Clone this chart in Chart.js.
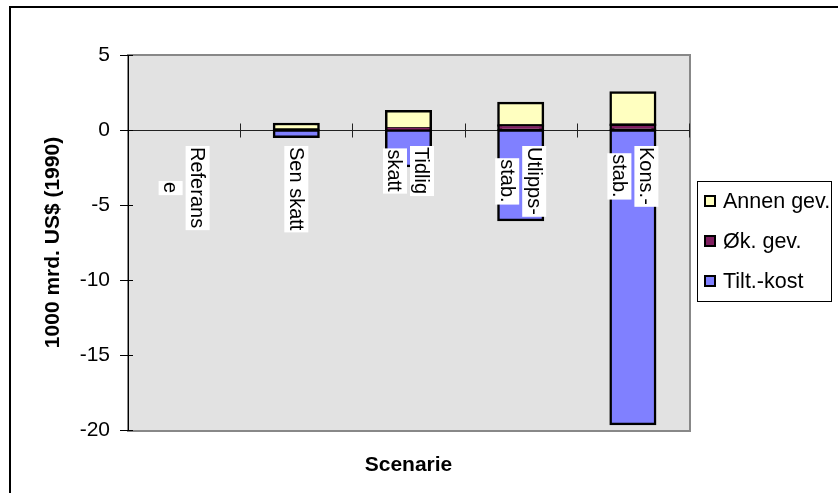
<!DOCTYPE html>
<html>
<head>
<meta charset="utf-8">
<script src="https://cdn.jsdelivr.net/npm/chart.js@4.4.1/dist/chart.umd.min.js"></script>
<style>
  html, body { margin: 0; padding: 0; background: #fff; }
  canvas { display: block; }
</style>
</head>
<body>
<canvas id="c" width="838" height="493"></canvas>
<script>
// Scenario names (wrapped the way they are printed under the zero line)
const scenarios = [["Referans", "e"], ["Sen skatt"], ["Tidlig", "skatt"], ["Utlipps-", "stab."], ["Kons.-", "stab."]];

// Values in 1000 mrd. US$ (1990)
const tiltakskost  = [0, -0.45, -2.4, -6.0, -19.6];
const okGevinst    = [0, 0, 0.1, 0.3, 0.35];
const annenGevinst = [0, 0.4, 1.15, 1.5, 2.15];

const yTicks = [5, 0, -5, -10, -15, -20];
const seriesNames = ["Tilt.-kost", "Øk. gev.", "Annen gev."];
const seriesColors = ["#8080FF", "#801F60", "#FFFFC0"];

const FONT = '"Liberation Sans", Arial, sans-serif';

// Plot-area background, frame and the outer chart border
const backdrop = {
  id: 'backdrop',
  beforeDraw(chart) {
    const { ctx, chartArea: a } = chart;
    ctx.save();
    ctx.fillStyle = '#fff';
    ctx.fillRect(0, 0, chart.width, chart.height);
    ctx.strokeStyle = '#000';
    ctx.lineWidth = 2;
    ctx.strokeRect(10, 7, chart.width + 50, chart.height + 50);
    ctx.fillStyle = '#E2E2E2';
    ctx.fillRect(a.left, a.top, a.right - a.left, a.bottom - a.top);
    ctx.strokeStyle = '#888';
    ctx.lineWidth = 2;
    ctx.strokeRect(a.left, a.top, a.right - a.left + 1, a.bottom - a.top + 1);
    ctx.restore();
  }
};

// Zero line with crossing category ticks, plus inner half of the value ticks
const zeroAxis = {
  id: 'zeroAxis',
  beforeDatasetsDraw(chart) {
    const { ctx, chartArea: a, scales: { x, y } } = chart;
    const y0 = Math.round(y.getPixelForValue(0)) + 0.5;
    ctx.save();
    ctx.strokeStyle = '#222';
    ctx.lineWidth = 1;
    ctx.beginPath();
    ctx.moveTo(a.left, y0);
    ctx.lineTo(a.right, y0);
    const n = scenarios.length;
    const w = (a.right - a.left) / n;
    for (let k = 1; k <= n; k++) {
      const px = Math.round(a.left + k * w) + 0.5;
      ctx.moveTo(px, y0 - 7);
      ctx.lineTo(px, y0 + 7);
    }
    ctx.stroke();
    ctx.strokeStyle = '#000';
    ctx.beginPath();
    yTicks.forEach(v => {
      const py = Math.round(y.getPixelForValue(v)) + 0.5;
      ctx.moveTo(a.left, py);
      ctx.lineTo(a.left + 5, py);
    });
    ctx.stroke();
    ctx.restore();
  }
};

// Category names, rotated to read downward, on white boxes under the zero line
const categoryLabels = {
  id: 'categoryLabels',
  afterDatasetsDraw(chart) {
    const { ctx, scales: { x, y } } = chart;
    const top = y.getPixelForValue(0) + 17;
    const pitch = 27;
    ctx.save();
    ctx.font = '20px ' + FONT;
    ctx.textBaseline = 'middle';
    ctx.textAlign = 'center';
    scenarios.forEach((lines, i) => {
      const cx = x.getPixelForValue(i);
      const widths = lines.map(t => ctx.measureText(t).width);
      const maxW = Math.max(...widths);
      ctx.save();
      ctx.translate(cx, top);
      ctx.rotate(Math.PI / 2);
      lines.forEach((t, j) => {
        const off = (j - (lines.length - 1) / 2) * pitch;
        const w = widths[j];
        ctx.fillStyle = '#fff';
        ctx.fillRect((maxW - w) / 2 - 1, off - 12, w + 3, 24);
        ctx.fillStyle = '#000';
        ctx.fillText(t, maxW / 2, off + 1);
      });
      ctx.restore();
    });
    ctx.restore();
  }
};

// Boxed legend to the right of the plot
const boxedLegend = {
  id: 'boxedLegend',
  afterDraw(chart) {
    const { ctx } = chart;
    ctx.save();
    ctx.strokeStyle = '#000';
    ctx.lineWidth = 1;
    ctx.strokeRect(697.5, 181.5, 134, 120);
    ctx.font = '21.5px ' + FONT;
    ctx.textBaseline = 'middle';
    ctx.textAlign = 'left';
    const order = [2, 1, 0];
    const rows = [201, 241, 281];
    order.forEach((d, r) => {
      const ds = chart.data.datasets[d];
      const cy = rows[r];
      ctx.fillStyle = ds.backgroundColor;
      ctx.fillRect(705, cy - 5, 10, 10);
      ctx.lineWidth = 2;
      ctx.strokeRect(705, cy - 5, 10, 10);
      ctx.fillStyle = '#000';
      ctx.fillText(ds.label, 723, cy + 1);
    });
    ctx.restore();
  }
};

// Outlines sit centred on the segment edges, as in the classic spreadsheet look
const barStyle = {
  borderColor: '#000',
  borderWidth: 2.5,
  inflateAmount: 1.25,
  borderSkipped: false,
  barPercentage: 0.397,
  categoryPercentage: 1.0
};

new Chart(document.getElementById('c'), {
  type: 'bar',
  data: {
    labels: scenarios,
    datasets: [
      Object.assign({ label: seriesNames[0], data: tiltakskost, backgroundColor: seriesColors[0] }, barStyle),
      Object.assign({ label: seriesNames[1], data: okGevinst, backgroundColor: seriesColors[1] }, barStyle),
      Object.assign({ label: seriesNames[2], data: annenGevinst, backgroundColor: seriesColors[2] }, barStyle)
    ]
  },
  options: {
    responsive: false,
    animation: false,
    devicePixelRatio: 1,
    layout: { padding: { top: 55, right: 149, bottom: 0, left: 0 } },
    plugins: { legend: { display: false }, tooltip: { enabled: false } },
    scales: {
      x: {
        stacked: true,
        grid: { display: false },
        border: { display: false },
        ticks: { display: false },
        title: {
          display: true,
          text: 'Scenarie',
          color: '#000',
          font: { family: FONT, size: 21, weight: 'bold' },
          padding: { top: 0, bottom: 15 }
        },
        afterFit(scale) { scale.height = 63; }
      },
      y: {
        stacked: true,
        min: -20,
        max: 5,
        afterBuildTicks(scale) { scale.ticks = yTicks.map(v => ({ value: v })); },
        grid: { drawOnChartArea: false, drawTicks: true, tickLength: 8, color: '#000' },
        border: { display: true, color: '#000', width: 1 },
        ticks: {
          color: '#000',
          padding: 10,
          font: { family: FONT, size: 21 }
        },
        title: {
          display: true,
          text: '1000 mrd. US$ (1990)',
          color: '#000',
          font: { family: FONT, size: 21, weight: 'bold' },
          padding: { top: 41, bottom: 0 }
        },
        afterFit(scale) { scale.width = 128; }
      }
    }
  },
  plugins: [backdrop, zeroAxis, categoryLabels, boxedLegend]
});
</script>
</body>
</html>
